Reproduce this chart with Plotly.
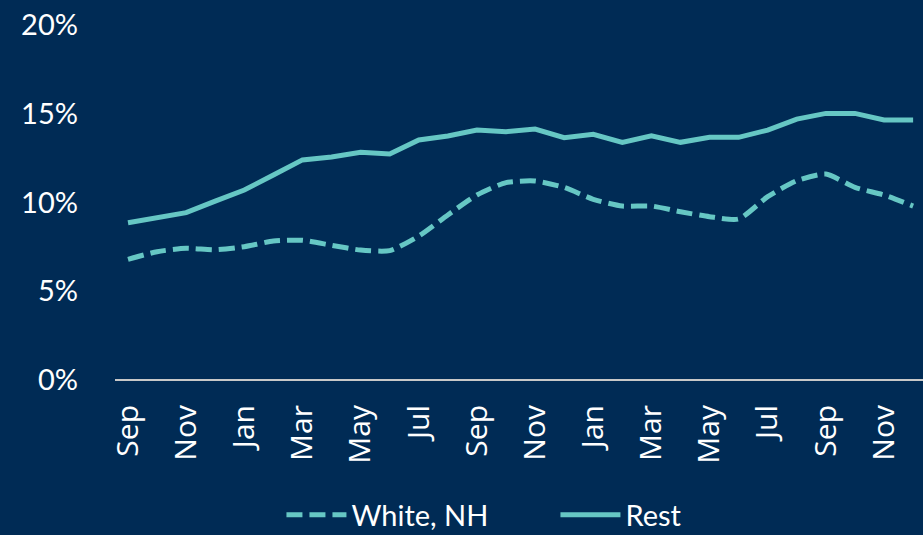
import plotly.graph_objects as go

# Monthly share, Sep (year 1) through Dec (year 3)
months = ["Sep", "Oct", "Nov", "Dec", "Jan", "Feb", "Mar", "Apr", "May", "Jun", "Jul", "Aug",
          "Sep", "Oct", "Nov", "Dec", "Jan", "Feb", "Mar", "Apr", "May", "Jun", "Jul", "Aug",
          "Sep", "Oct", "Nov", "Dec"]
white_nh = [6.80, 7.23, 7.42, 7.34, 7.51, 7.83, 7.87, 7.59, 7.32, 7.29, 8.11, 9.30,
            10.42, 11.12, 11.21, 10.85, 10.18, 9.80, 9.80, 9.48, 9.20, 9.07, 10.33, 11.23,
            11.60, 10.85, 10.42, 9.80]
rest = [8.86, 9.15, 9.43, 10.08, 10.70, 11.55, 12.40, 12.56, 12.83, 12.73, 13.52, 13.75,
        14.08, 13.99, 14.14, 13.65, 13.84, 13.39, 13.76, 13.39, 13.67, 13.67, 14.08, 14.70,
        15.02, 15.02, 14.65, 14.65]
y_ticks = [0, 5, 10, 15, 20]

BG = '#002B55'
TEAL = '#66C7C4'
FONT = 'Lato, Open Sans, sans-serif'

x = list(range(len(months)))

fig = go.Figure()

fig.add_trace(go.Scatter(
    x=x, y=white_nh,
    mode='lines',
    name='White, NH',
    line=dict(color=TEAL, width=5, dash='16px,7px', shape='spline', smoothing=0.6),
))
fig.add_trace(go.Scatter(
    x=x, y=rest,
    mode='lines',
    name='Rest',
    line=dict(color=TEAL, width=5),
))

fig.update_layout(
    width=923, height=535,
    paper_bgcolor=BG, plot_bgcolor=BG,
    margin=dict(l=115, r=0, t=25, b=155, autoexpand=False),
    font=dict(family=FONT, color='white', size=29),
    showlegend=True,
    legend=dict(
        orientation='h', x=0.206, xanchor='left', y=-0.38, yanchor='middle',
        font=dict(size=29, family=FONT), bgcolor='rgba(0,0,0,0)',
        itemwidth=60, entrywidth=199, tracegroupgap=0,
    ),
    xaxis=dict(
        range=[-0.447, 27.34],
        tickmode='array',
        tickvals=x[::2],
        ticktext=months[::2],
        tickangle=-90,
        tickfont=dict(family='Open Sans, sans-serif', size=30, color='white'),
        showgrid=False, zeroline=False,
        showline=False,
        ticks='',
        ticklabelstandoff=18,
        automargin=False,
    ),
    yaxis=dict(
        range=[0, 20],
        tickvals=y_ticks,
        ticktext=[f"{v}%" for v in y_ticks],
        showgrid=False,
        zeroline=True, zerolinecolor='#C8C8C8', zerolinewidth=2,
        showline=False,
        ticks='',
        ticklabelstandoff=36,
        tickfont=dict(size=29, color='white'),
        automargin=False,
    ),
)

fig.write_html("out.html", post_script="document.body.style.margin='0';",
               config={'displayModeBar': False})
